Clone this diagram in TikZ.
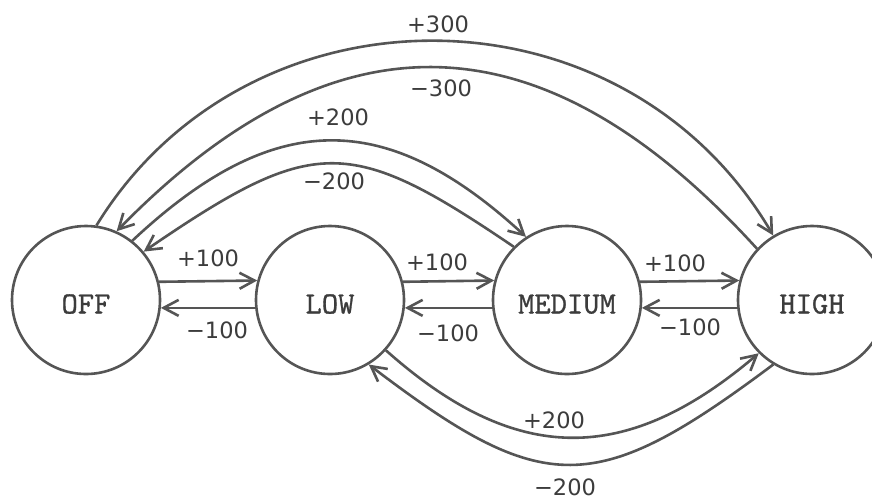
\documentclass[tikz,border=0pt]{standalone}
\usepackage{fontspec}
\newfontfamily\numfont{DejaVu Sans}
\newfontfamily\statefont[FakeBold=0.9]{lmmono10-regular.otf}
\usetikzlibrary{arrows.meta}
\definecolor{ink}{HTML}{555555}
\definecolor{txt}{HTML}{3C3C3C}
\begin{document}
\begin{tikzpicture}[x=1pt,y=-1pt,
  state/.style={circle,draw=ink,line width=2.6pt,minimum size=148pt,inner sep=0pt,
    font=\fontsize{31}{31}\selectfont\statefont,text=txt,text height=27pt,text depth=0pt},
  link/.style={draw=ink,line width=2.6pt,-{Straight Barb[length=15pt,width=16pt]}},
  num/.style={font=\fontsize{22.5}{22.5}\selectfont\numfont,text=txt,inner sep=0pt}]
\useasboundingbox[fill=white] (0,0) rectangle (872,499);

\node[state] (off) at (86,300) {OFF};
\node[state] (low) at (330,300) {LOW};
\node[state] (med) at (567,300) {MEDIUM};
\node[state] (high) at (812,300) {HIGH};

% straight arrows
\draw[link] (off.14.08) -- (low.165.92);
\draw[link] (low.186.6) -- (off.-6.6);
\draw[link] (low.14.08) -- (med.165.92);
\draw[link] (med.186.6) -- (low.-6.6);
\draw[link] (med.14.08) -- (high.165.92);
\draw[link] (high.186.6) -- (med.-6.6);

% top arcs
\draw[link] (off.82) .. controls (248,-22) and (622,-22) .. (high.121);
\draw[link] (high.137.6) .. controls (540,10) and (333,10) .. (off.66);
\draw[link] (off.52) .. controls (274,108) and (386,108) .. (med.123.7);
\draw[link] (med.135) .. controls (349,135) and (314,135) .. (off.40);

% bottom arcs
\draw[link] (low.-42.3) .. controls (516,466) and (626,466) .. (high.225);
\draw[link] (high.239.5) .. controls (595,498) and (544,498) .. (low.-59.6);

% labels
\node[num] (a1) at (208,258) {+100};
\node[num] (a2) at (217,330) {−100};
\node[num] (b1) at (437,262) {+100};
\node[num] (b2) at (448,333) {−100};
\node[num] (c1) at (675,263) {+100};
\node[num] (c2) at (690,327) {−100};
\node[num] (d1) at (438,24) {+300};
\node[num] (d2) at (441,88) {−300};
\node[num] (e1) at (338,117) {+200};
\node[num] (e2) at (334,181) {−200};
\node[num] (f1) at (554,420) {+200};
\node[num] (f2) at (565,487) {−200};
\end{tikzpicture}
\end{document}
